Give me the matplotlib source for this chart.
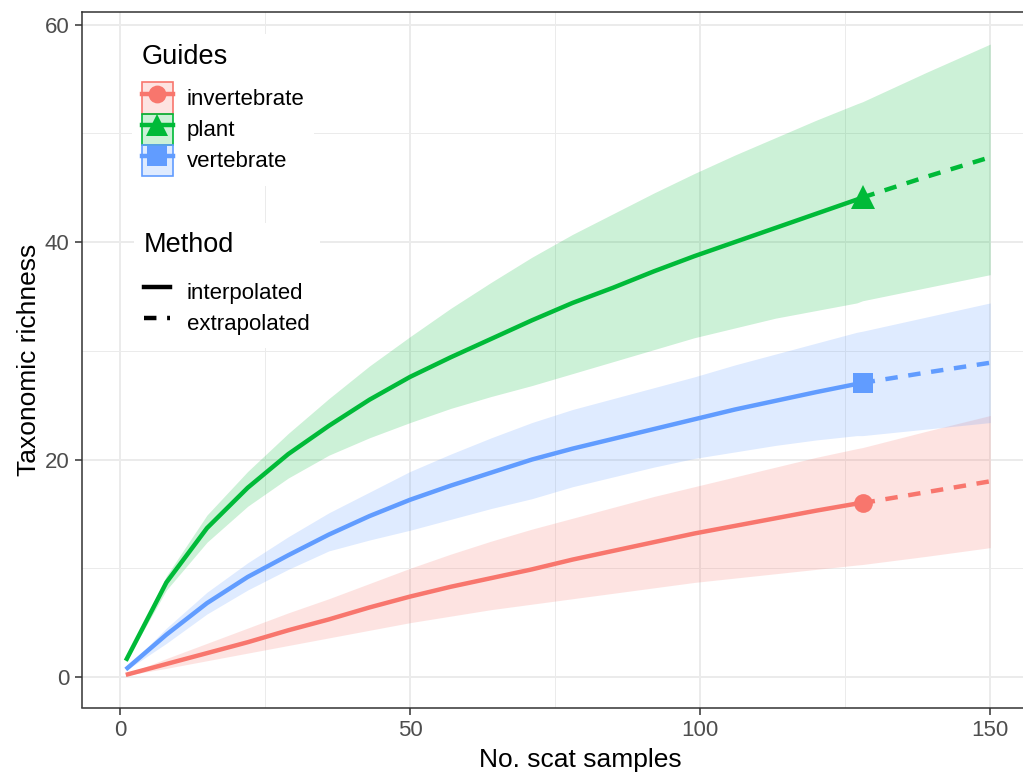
import matplotlib
matplotlib.use("Agg")
import matplotlib.pyplot as plt
from matplotlib.lines import Line2D
from matplotlib.patches import Patch
from matplotlib.ticker import MultipleLocator

plt.rcParams['font.family'] = ['Liberation Sans', 'DejaVu Sans']

# ---- data ----
x_interp = [1, 8, 15, 22, 29, 36, 43, 50, 57, 64, 71, 78, 85, 92, 99, 106, 113, 120, 127, 128]
x_extrap = [128, 139, 150]
x_obs = 128

guides = ["invertebrate", "plant", "vertebrate"]
colors = {"invertebrate": "#F8766D", "plant": "#00BA38", "vertebrate": "#619CFF"}
markers = {"invertebrate": "o", "plant": "^", "vertebrate": "s"}
msizes = {"invertebrate": 13.5, "plant": 17, "vertebrate": 15}

# interpolated estimates
inv_interp = [0.2, 1.2, 2.2, 3.2, 4.3, 5.3, 6.4, 7.4, 8.3, 9.1, 9.9, 10.8, 11.6, 12.4, 13.2, 13.9, 14.6, 15.3, 15.95, 16.0]
inv_interp_lo = [0.15, 0.8, 1.5, 2.2, 2.9, 3.6, 4.3, 5.0, 5.6, 6.2, 6.7, 7.2, 7.7, 8.2, 8.7, 9.1, 9.5, 9.9, 10.3, 10.35]
inv_interp_hi = [0.25, 1.7, 3.1, 4.5, 5.9, 7.2, 8.6, 10.0, 11.3, 12.5, 13.6, 14.6, 15.6, 16.6, 17.5, 18.4, 19.3, 20.2, 21.0, 21.1]

pla_interp = [1.5, 8.7, 13.7, 17.4, 20.5, 23.1, 25.5, 27.6, 29.4, 31.1, 32.8, 34.4, 35.8, 37.3, 38.7, 40.0, 41.3, 42.6, 43.9, 44.1]
pla_interp_lo = [1.4, 8.0, 12.4, 15.7, 18.3, 20.4, 22.0, 23.4, 24.7, 25.8, 26.8, 27.9, 29.0, 30.1, 31.2, 32.1, 33.0, 33.7, 34.4, 34.6]
pla_interp_hi = [1.6, 9.3, 14.9, 18.9, 22.4, 25.6, 28.6, 31.3, 33.9, 36.3, 38.6, 40.7, 42.6, 44.5, 46.3, 48.0, 49.6, 51.2, 52.7, 52.9]

ver_interp = [0.7, 3.9, 6.8, 9.2, 11.2, 13.1, 14.8, 16.3, 17.6, 18.8, 20.0, 21.0, 21.9, 22.8, 23.7, 24.6, 25.4, 26.2, 26.95, 27.05]
ver_interp_lo = [0.6, 3.1, 5.8, 8.0, 9.9, 11.6, 12.6, 13.5, 14.5, 15.5, 16.4, 17.5, 18.4, 19.3, 20.1, 20.7, 21.3, 21.8, 22.2, 22.2]
ver_interp_hi = [0.8, 4.5, 7.8, 10.5, 12.9, 15.1, 17.0, 18.9, 20.5, 22.0, 23.4, 24.6, 25.6, 26.6, 27.6, 28.7, 29.7, 30.7, 31.7, 31.8]

# extrapolated estimates
inv_extrap = [16.0, 17.0, 18.0]
inv_extrap_lo = [10.35, 11.1, 11.9]
inv_extrap_hi = [21.1, 22.6, 24.05]

pla_extrap = [44.1, 46.0, 47.8]
pla_extrap_lo = [34.6, 35.8, 37.0]
pla_extrap_hi = [52.9, 55.6, 58.2]

ver_extrap = [27.05, 28.0, 28.9]
ver_extrap_lo = [22.2, 22.8, 23.4]
ver_extrap_hi = [31.8, 33.1, 34.4]

series = {
    "invertebrate": (inv_interp, inv_interp_lo, inv_interp_hi, inv_extrap, inv_extrap_lo, inv_extrap_hi),
    "plant": (pla_interp, pla_interp_lo, pla_interp_hi, pla_extrap, pla_extrap_lo, pla_extrap_hi),
    "vertebrate": (ver_interp, ver_interp_lo, ver_interp_hi, ver_extrap, ver_extrap_lo, ver_extrap_hi),
}

xticks = [0, 50, 100, 150]
yticks = [0, 20, 40, 60]

# ---- figure ----
W, H = 1023, 773
fig = plt.figure(figsize=(W / 100, H / 100), dpi=100)
ax_left, ax_right, ax_top, ax_bot = 82, 1079, 12, 707.5
ax = fig.add_axes([ax_left / W, 1 - ax_bot / H, (ax_right - ax_left) / W, (ax_bot - ax_top) / H])

LW = 3.2
DASH = (2.8, 2.4)
for g in guides:
    yi, yilo, yihi, ye, yelo, yehi = series[g]
    c = colors[g]
    ax.fill_between(x_interp + x_extrap[1:], yilo + yelo[1:], yihi + yehi[1:],
                    color=c, alpha=0.2, linewidth=0)
for g in guides:
    yi, yilo, yihi, ye, yelo, yehi = series[g]
    c = colors[g]
    ax.plot(x_interp, yi, color=c, lw=LW, solid_capstyle='butt', zorder=3)
    ax.plot(x_extrap, ye, color=c, lw=LW, dashes=DASH, dash_capstyle='butt', zorder=3)
    ax.plot([x_obs], [yi[-1]], linestyle='none', marker=markers[g], ms=msizes[g],
            color=c, markeredgewidth=0, zorder=4)

ax.set_xlim(-6.55, 165.3)
ax.set_ylim(-2.8, 61.15)
ax.set_xticks(xticks)
ax.set_yticks(yticks)
ax.xaxis.set_minor_locator(MultipleLocator(25))
ax.yaxis.set_minor_locator(MultipleLocator(10))
ax.grid(True, which='major', color='#EBEBEB', lw=1.4)
ax.grid(True, which='minor', color='#EBEBEB', lw=0.7)
ax.set_axisbelow(True)
ax.tick_params(which='minor', length=0)
ax.tick_params(which='major', length=5, width=1.1, color='#333333',
               labelsize=16, labelcolor='#4D4D4D', pad=4)
for s in ax.spines.values():
    s.set_color('#333333')
    s.set_linewidth(1.1)

ax.set_xlabel("No. scat samples", fontsize=19, color='black', labelpad=5)
ax.set_ylabel("Taxonomic richness", fontsize=19, color='black', labelpad=3)

# ---- legends ----
fs_leg = 16
fs_title = 19.5
HH = 1.77   # key height 31 px
HL = 1.395  # key width 31 px
guide_handles = []
for g in guides:
    c = colors[g]
    p = Patch(facecolor=matplotlib.colors.to_rgba(c, 0.2), edgecolor=c, linewidth=1.2)
    l = Line2D([], [], color=c, lw=LW, marker=markers[g], ms=msizes[g] * 0.95,
               markeredgewidth=0)
    guide_handles.append((p, l))

common = dict(fontsize=fs_leg, title_fontsize=fs_title, frameon=True, framealpha=1,
              facecolor='white', edgecolor='none', fancybox=False,
              handleheight=HH, labelspacing=0.0, borderpad=0.45,
              borderaxespad=0, alignment='left', loc='upper left',
              bbox_transform=fig.transFigure)

leg1 = ax.legend(guide_handles, guides, title="Guides",
                 bbox_to_anchor=(131.7 / W, 1 - 34 / H),
                 handlelength=HL, handletextpad=0.63, **common)
leg1._legend_box.sep = 9
ax.add_artist(leg1)

method_handles = [Line2D([], [], color='black', lw=LW),
                  Line2D([], [], color='black', lw=LW, dashes=DASH)]
leg2 = ax.legend(method_handles, ["interpolated", "extrapolated"], title="Method",
                 bbox_to_anchor=(134 / W, 1 - 222.5 / H),
                 handlelength=1.17, handletextpad=0.76, **common)
leg2._legend_box.sep = 12.5

fig.savefig("out.png", dpi=100)
